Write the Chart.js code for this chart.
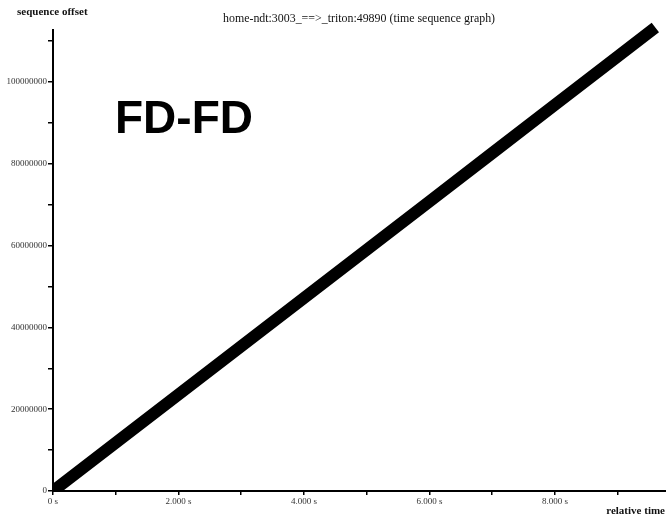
<!DOCTYPE html>
<html>
<head>
<meta charset="utf-8">
<script src="https://cdn.jsdelivr.net/npm/chart.js@4.4.1/dist/chart.umd.min.js"></script>
<style>
    body { margin: 0; background: #fff; }
    .wrap { position: relative; width: 666px; height: 521px; }
    .lbl { position: absolute; font-family: "Liberation Serif", "DejaVu Serif", serif; font-size: 11px; color: #111; white-space: nowrap; line-height: 1; }
    .bold { font-weight: bold; }
    .big { position: absolute; left: 115px; top: 94px; font-family: "Liberation Sans", Arial, sans-serif; font-weight: bold; font-size: 46px; line-height: 1; color: #000; }
</style>
</head>
<body>
<div class="wrap">
    <canvas id="chart"></canvas>
    <div class="lbl bold" style="left:17px; top:6px;">sequence offset</div>
    <div class="lbl" style="left:223px; top:13px; font-size:11.9px;">home-ndt:3003_==&gt;_triton:49890 (time sequence graph)</div>
    <div class="lbl bold" style="right:1px; top:505px;">relative time</div>
    <div class="big">FD-FD</div>
</div>
<script>
// relative time (s) and sequence offset
const times = [0, 1, 2, 3, 4, 5, 6, 7, 8, 9, 9.6];
const seqOffsets = [0, 11800000, 23600000, 35400000, 47200000, 59000000, 70800000, 82600000, 94400000, 106200000, 113300000];

// tick marks every 10M, labels every 20M
const yTicks = [0, 10000000, 20000000, 30000000, 40000000, 50000000, 60000000, 70000000, 80000000, 90000000, 100000000, 110000000];
const yLabelled = [0, 20000000, 40000000, 60000000, 80000000, 100000000];
const xTicks = [0, 1, 2, 3, 4, 5, 6, 7, 8, 9];
const xLabels = ["0 s", "", "2.000 s", "", "4.000 s", "", "6.000 s", "", "8.000 s", ""];

const points = times.map((t, i) => ({ x: t, y: seqOffsets[i] }));

const tickFont = { family: "Liberation Serif", size: 9 };

new Chart(document.getElementById("chart"), {
    type: "line",
    data: {
        datasets: [
            {
                data: points,
                borderColor: "#000",
                borderWidth: 12,
                borderCapStyle: "butt",
                pointRadius: 0,
                tension: 0,
                clip: { left: 0, top: false, right: false, bottom: 0 },
            },
        ],
    },
    options: {
        responsive: true,
        maintainAspectRatio: false,
        animation: false,
        layout: { padding: { top: 30, right: 0, left: 0, bottom: 0 } },
        plugins: {
            legend: { display: false },
            tooltip: { enabled: false },
        },
        scales: {
            x: {
                type: "linear",
                min: 0,
                max: 9.77,
                afterFit: (scale) => { scale.height = 30; },
                afterBuildTicks: (scale) => { scale.ticks = xTicks.map((v) => ({ value: v })); },
                ticks: {
                    autoSkip: false,
                    maxRotation: 0,
                    padding: 1,
                    font: tickFont,
                    color: "#333",
                    callback: (v, i) => xLabels[i] ?? "",
                },
                grid: { drawOnChartArea: false, tickLength: 4, color: "#000", lineWidth: 1.5 },
                border: { color: "#000", width: 2 },
            },
            y: {
                min: 0,
                max: 112700000,
                afterFit: (scale) => { scale.width = 53; },
                afterBuildTicks: (scale) => { scale.ticks = yTicks.map((v) => ({ value: v })); },
                ticks: {
                    autoSkip: false,
                    padding: 1,
                    font: tickFont,
                    color: "#333",
                    callback: (v) => (yLabelled.includes(v) ? String(v) : ""),
                },
                grid: { drawOnChartArea: false, tickLength: 5, color: "#000", lineWidth: 1.5 },
                border: { color: "#000", width: 2 },
            },
        },
    },
});
</script>
</body>
</html>
